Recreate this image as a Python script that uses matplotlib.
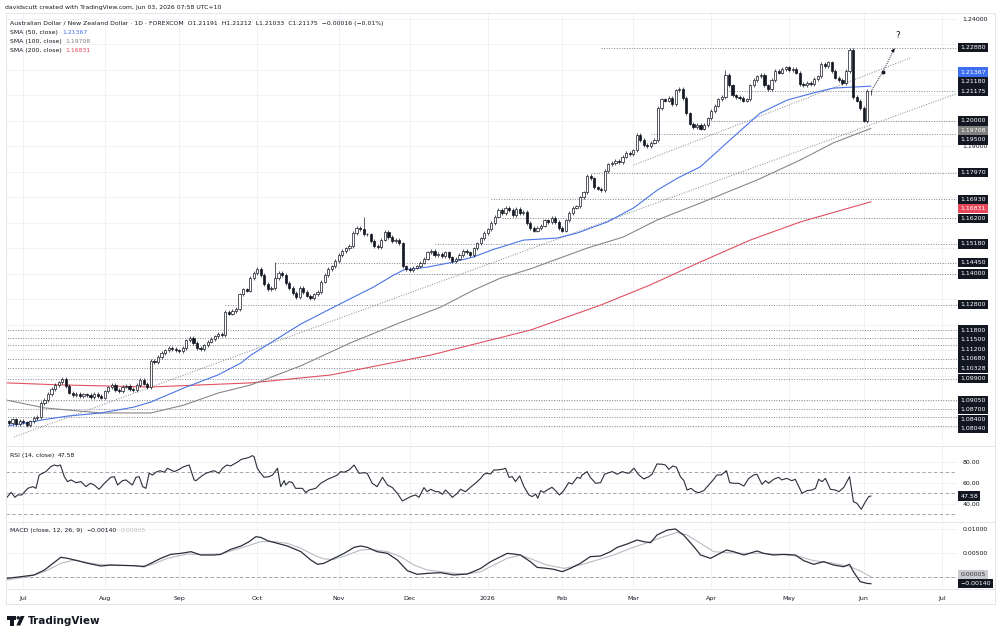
import numpy as np
import matplotlib.pyplot as plt
from matplotlib.transforms import blended_transform_factory
from matplotlib.patches import Polygon, Ellipse
from matplotlib.lines import Line2D

plt.rcParams['font.family'] = ['DejaVu Sans']

# ---------------- data (x = daily bar index) ----------------
month_labels = ["Jul", "Aug", "Sep", "Oct", "Nov", "Dec", "2026", "Feb", "Mar", "Apr", "May", "Jun", "Jul"]
month_bars = [4, 27, 48, 70, 93, 113, 135, 156, 176, 198, 220, 241, 263]

closes = [
    # late Jun 2025
    1.0815, 1.0830, 1.0812, 1.0825,
    # Jul
    1.0818, 1.0808, 1.0822, 1.0835, 1.0840, 1.0895, 1.0905, 1.0930, 1.0950, 1.0965,
    1.0975, 1.0988, 1.0960, 1.0935, 1.0925, 1.0930, 1.0920, 1.0928, 1.0925, 1.0918,
    1.0930, 1.0922, 1.0915,
    # Aug
    1.0940, 1.0955, 1.0965, 1.0945, 1.0940, 1.0958, 1.0962, 1.0950, 1.0945, 1.0965,
    1.0985, 1.0970, 1.0955, 1.1060, 1.1055, 1.1075, 1.1090, 1.1100, 1.1110, 1.1105,
    1.1100,
    # Sep
    1.1098, 1.1110, 1.1140, 1.1150, 1.1130, 1.1110, 1.1105, 1.1120, 1.1135, 1.1145,
    1.1155, 1.1165, 1.1160, 1.1250, 1.1245, 1.1255, 1.1262, 1.1320, 1.1340, 1.1335,
    1.1385, 1.1405,
    # Oct
    1.1420, 1.1395, 1.1360, 1.1340, 1.1345, 1.1385, 1.1405, 1.1395, 1.1365, 1.1345,
    1.1325, 1.1310, 1.1345, 1.1330, 1.1315, 1.1305, 1.1320, 1.1330, 1.1370, 1.1395,
    1.1420, 1.1430, 1.1450,
    # Nov
    1.1475, 1.1490, 1.1500, 1.1510, 1.1560, 1.1580, 1.1575, 1.1555, 1.1555, 1.1530,
    1.1510, 1.1505, 1.1535, 1.1565, 1.1545, 1.1530, 1.1535, 1.1520, 1.1430, 1.1420,
    # Dec
    1.1415, 1.1425, 1.1430, 1.1445, 1.1460, 1.1485, 1.1490, 1.1475, 1.1480, 1.1470,
    1.1485, 1.1465, 1.1450, 1.1460, 1.1475, 1.1490, 1.1485, 1.1475, 1.1500, 1.1520,
    1.1540, 1.1560, 1.1575,
    # Jan 2026
    1.1600, 1.1625, 1.1650, 1.1640, 1.1660, 1.1650, 1.1630, 1.1655, 1.1640, 1.1645,
    1.1600, 1.1580, 1.1570, 1.1580, 1.1590, 1.1610, 1.1605, 1.1620, 1.1605, 1.1580,
    # Feb
    1.1570, 1.1610, 1.1640, 1.1660, 1.1665, 1.1700, 1.1720, 1.1785, 1.1775, 1.1740,
    1.1735, 1.1730, 1.1805, 1.1830, 1.1835, 1.1845, 1.1840, 1.1860, 1.1875, 1.1870,
    # Mar
    1.1885, 1.1945, 1.1925, 1.1905, 1.1900, 1.1915, 1.1925, 1.2050, 1.2085, 1.2080,
    1.2090, 1.2065, 1.2120, 1.2125, 1.2090, 1.2030, 1.1990, 1.1975, 1.1985, 1.1970,
    1.1985, 1.2010,
    # Apr
    1.2040, 1.2060, 1.2085, 1.2095, 1.2180, 1.2140, 1.2100, 1.2095, 1.2090, 1.2080,
    1.2085, 1.2140, 1.2160, 1.2175, 1.2180, 1.2140, 1.2125, 1.2160, 1.2195, 1.2190,
    1.2205, 1.2210,
    # May
    1.2200, 1.2205, 1.2190, 1.2145, 1.2140, 1.2150, 1.2145, 1.2165, 1.2175, 1.2225,
    1.2215, 1.2230, 1.2195, 1.2170, 1.2160, 1.2150, 1.2195, 1.2280, 1.2095, 1.2080,
    1.2050,
    # Jun
    1.2000, 1.21191, 1.21175,
]
first_open = 1.0822
last_open = 1.21191
wick = 0.0007
extreme_highs = {75: 1.1447, 100: 1.1625, 202: 1.2200, 237: 1.2288, 243: 1.21212}
extreme_lows = {241: 1.1995, 243: 1.21033}

sma50_bars = [0, 3.4, 9.0, 16.6, 25.9, 35.2, 40.0, 49.3, 58.9, 65.4, 68.2, 82.3, 95.5, 102.8,
              108.5, 111.3, 118.0, 125.4, 131.0, 136.3, 145.1, 154.6, 160.3, 168.7, 176.1,
              182.8, 188.5, 194.9, 204.2, 211.8, 219.4, 226.8, 232.4, 238.0, 243]
sma50_vals = [1.0806, 1.0812, 1.0827, 1.0843, 1.0855, 1.0878, 1.0898, 1.0953, 1.1004, 1.1051,
              1.1082, 1.1204, 1.1298, 1.1349, 1.1396, 1.1416, 1.1427, 1.1447, 1.1467, 1.1495,
              1.1533, 1.1541, 1.1561, 1.1604, 1.1659, 1.1729, 1.1776, 1.1820, 1.1937, 1.2031,
              1.2082, 1.2110, 1.2129, 1.2133, 1.21367]
sma100_bars = [-0.8, 9.9, 25.9, 40.0, 49.3, 58.9, 68.2, 82.3, 96.3, 110.4, 121.7, 131.0,
               138.6, 147.0, 163.1, 173.2, 182.8, 194.9, 211.0, 223.1, 232.4, 243]
sma100_vals = [1.0906, 1.0875, 1.0855, 1.0855, 1.0886, 1.0933, 1.0965, 1.1040, 1.1130, 1.1210,
               1.1270, 1.1337, 1.1384, 1.1420, 1.1502, 1.1545, 1.1612, 1.1678, 1.1769, 1.1847,
               1.1914, 1.19708]
sma200_bars = [-0.8, 14.6, 40.0, 68.2, 90.7, 118.9, 147.0, 166.8, 180.8, 194.9, 209.0, 223.1, 243]
sma200_vals = [1.0973, 1.0965, 1.0957, 1.0973, 1.1004, 1.1082, 1.1180, 1.1278, 1.1357, 1.1447,
               1.1533, 1.1604, 1.16831]

level_prices = [1.2288, 1.2118, 1.2000, 1.1950, 1.1797, 1.1693, 1.1620, 1.1518, 1.1445, 1.1400,
                1.1280, 1.1180, 1.1150, 1.1120, 1.1068, 1.10328, 1.0990, 1.0905, 1.0870,
                1.0840, 1.0804]
level_start = [167, 203, 198, 181, 164, 136, 139, 120, 75, 109,
               61, -1, -1, -1, -1, -1, -1, -1, -1, -1, -1]

price_ticks = [1.08, 1.09, 1.10, 1.11, 1.12, 1.13, 1.14, 1.15, 1.16, 1.17, 1.18, 1.19,
               1.20, 1.21, 1.22, 1.23, 1.24]
price_ticks_labelled = [1.19, 1.24]

trend_a_bars = [1.4, 267.3]
trend_a_prices = [1.0761, 1.2108]
trend_c_bars = [176.1, 254.1]
trend_c_prices = [1.1827, 1.2247]
arrow_bars = [243.3, 246.4, 249.7]
arrow_prices = [1.2122, 1.2193, 1.2285]
question_bar, question_price = 250.7, 1.2337

rsi_bars = [
    -0.6, 0.6, 1.7, 2.4, 3.6, 5.3, 6.7, 7.6, 8.5, 9.5,
    10.4, 11.8, 12.8, 13.7, 14.5, 15.6, 16.5, 17.5, 18.9, 20.3,
    21.7, 22.9, 24.0, 25.4, 26.9, 28.7, 29.7, 30.6, 32.0, 33.0,
    33.9, 34.8, 35.8, 36.7, 37.7, 38.6, 39.5, 40.5, 41.4, 42.6,
    43.8, 44.7, 45.6, 46.6, 48.0, 48.9, 49.9, 50.8, 52.2, 52.7,
    54.1, 55.5, 56.9, 57.8, 59.2, 60.2, 61.4, 62.5, 63.5, 64.6,
    65.5, 66.8, 67.7, 68.6, 69.1, 70.0, 71.0, 71.9, 73.3, 74.3,
    75.7, 76.6, 77.6, 78.0, 79.0, 79.9, 80.8, 81.8, 82.7, 83.7,
    84.6, 86.5, 87.9, 89.8, 91.6, 92.6, 93.5, 94.5, 95.9, 97.3,
    98.7, 100.1, 101.0, 102.4, 103.8, 105.3, 106.7, 108.1, 109.5, 110.9,
    111.8, 113.2, 114.6, 115.6, 117.0, 117.9, 118.9, 120.3, 121.2, 122.2,
    123.1, 124.0, 125.0, 126.4, 127.3, 128.7, 130.1, 131.5,
    133.0, 133.9, 134.8, 135.8, 136.7, 137.7, 139.1, 140.0, 141.0, 141.9,
    142.8, 144.0, 145.2, 146.6, 147.5, 148.5, 149.1, 149.9, 150.8, 151.7,
    153.1, 154.1, 155.2, 156.4, 157.8, 158.8, 160.2, 161.1, 161.6, 163.0,
    163.9, 165.4, 166.8, 167.9, 169.1, 170.1, 171.5, 172.9, 173.8, 174.8,
    176.2, 177.6, 179.0, 180.4, 181.3, 182.7, 184.2, 185.1, 186.0, 187.2,
    188.2, 189.3, 190.3, 191.2, 192.3, 193.5, 194.5, 195.9, 197.3, 198.7,
    199.6, 200.8, 202.3, 203.2, 204.3, 205.7, 207.2, 208.6, 210.0, 210.9,
    212.3, 213.3, 214.2, 215.6, 217.0, 217.9, 219.3, 220.7, 221.7, 223.6,
    225.0, 226.4, 227.4, 228.3, 229.3, 230.2, 231.6, 233.0, 234.0, 235.4,
    237.0, 238.1, 239.1, 240.3, 241.5, 242.4, 243.0,
]
rsi_vals = [
    46.3, 51.1, 46.3, 48.6, 48.6, 54.9, 56.5, 54.9, 67.6, 69.2,
    70.8, 75.6, 77.1, 76.2, 77.1, 66.0, 61.3, 62.9, 60.3, 61.3,
    56.5, 59.7, 58.1, 54.0, 59.7, 65.4, 66.0, 58.1, 62.2, 62.9,
    60.3, 58.1, 65.4, 66.0, 56.5, 54.9, 69.2, 67.6, 70.2, 71.7,
    70.2, 74.0, 72.4, 70.8, 73.0, 74.9, 76.2, 77.1, 62.9, 62.2,
    66.0, 69.2, 70.8, 71.7, 69.2, 74.0, 77.1, 76.2, 78.1, 80.3,
    82.5, 83.5, 84.4, 86.0, 85.1, 74.0, 69.2, 65.4, 66.0, 67.6,
    74.0, 56.5, 62.2, 58.1, 61.3, 60.3, 54.9, 54.9, 54.9, 50.8,
    53.3, 54.9, 59.7, 63.5, 66.0, 67.6, 70.8, 70.2, 72.4, 77.1,
    69.2, 69.8, 69.2, 59.7, 56.5, 65.4, 58.1, 55.6, 50.2, 42.9,
    44.4, 47.0, 48.6, 46.3, 55.6, 51.7, 54.0, 51.7, 51.7, 49.2,
    53.3, 50.2, 46.3, 50.2, 54.0, 51.7, 55.9, 59.7,
    64.4, 68.3, 69.2, 68.6, 72.4, 72.4, 73.0, 74.0, 65.4, 66.0,
    61.3, 66.7, 56.5, 48.6, 47.0, 49.5, 45.4, 52.7, 51.1, 53.3,
    55.9, 52.7, 48.6, 52.7, 60.3, 59.0, 65.4, 64.4, 67.6, 70.8,
    65.4, 59.7, 60.3, 68.3, 69.8, 70.8, 68.3, 70.8, 69.8, 69.2,
    74.0, 67.6, 63.8, 66.0, 68.3, 78.1, 77.8, 77.1, 73.0, 76.2,
    74.9, 66.0, 62.2, 53.3, 54.9, 51.7, 50.8, 52.7, 58.1, 63.5,
    67.6, 67.6, 71.7, 60.3, 59.7, 59.7, 57.1, 64.4, 67.6, 68.3,
    58.7, 62.2, 59.7, 63.5, 65.4, 62.9, 64.4, 62.2, 63.5, 50.2,
    52.7, 53.3, 54.9, 63.5, 61.3, 64.4, 54.0, 53.3, 51.7, 55.9,
    66.0, 42.2, 40.6, 34.9, 42.2, 47.0, 47.58,
]

macd_bars = [
    -0.6, 3.4, 7.1, 10.0, 11.8, 14.6, 16.5, 19.3, 22.2, 25.9,
    28.7, 31.5, 35.3, 38.1, 40.0, 42.8, 45.6, 48.5, 51.3, 54.1,
    57.8, 59.7, 62.5, 65.4, 67.7, 69.6, 71.0, 72.9, 75.7, 78.5,
    82.3, 85.1, 87.0, 88.8, 91.6, 94.5, 97.3, 99.2, 101.0, 103.8,
    106.7, 109.5, 112.3, 115.1, 117.9, 121.7, 125.4, 129.2, 132.0,
    133.0, 135.8, 138.6, 140.5, 142.4, 144.2, 147.0, 148.9, 151.7, 153.6,
    156.0, 158.3, 161.1, 163.9, 166.8, 169.6, 171.5, 174.3, 177.1, 179.0,
    180.9, 182.7, 185.6, 187.9, 190.2, 193.1, 195.0, 197.8, 199.6, 202.3,
    204.3, 207.2, 210.9, 212.8, 215.6, 218.4, 221.7, 224.1, 226.9, 229.7,
    232.5, 235.3, 237.0, 238.1, 240.0, 241.9, 243.0,
]
macd_vals = [
    -0.00028, 0.00007, 0.00042, 0.00146, 0.0025, 0.0041, 0.00389, 0.0034, 0.00285, 0.00229,
    0.0025, 0.00243, 0.00236, 0.00215, 0.00285, 0.00389, 0.00472, 0.00493, 0.00528, 0.00458,
    0.00458, 0.00472, 0.00576, 0.00646, 0.00736, 0.0084, 0.00826, 0.00757, 0.00701, 0.00646,
    0.00528, 0.00354, 0.00264, 0.00285, 0.00389, 0.00493, 0.00618, 0.00646, 0.00618, 0.00528,
    0.00493, 0.00354, 0.00132, 0.00056, 0.00076, 0.0009, 0.00042, 0.00063, 0.00146,
    0.0018, 0.0032, 0.00424, 0.00493, 0.00479, 0.00458, 0.0032, 0.00201, 0.0018, 0.0016,
    0.00111, 0.0018, 0.00285, 0.00424, 0.00438, 0.00528, 0.00618, 0.00688, 0.00771, 0.00736,
    0.00715, 0.00875, 0.00979, 0.0100, 0.00875, 0.00632, 0.00458, 0.00389, 0.00458, 0.00563,
    0.00528, 0.00458, 0.00542, 0.00493, 0.00458, 0.00472, 0.00458, 0.0034, 0.00264, 0.0032,
    0.0025, 0.00215, 0.00264, 0.00111, -0.00097, -0.00132, -0.0014,
]
signal_bars = [
    -0.6, 5.3, 10.0, 14.6, 18.4, 22.2, 25.9, 31.5, 37.2, 40.0,
    44.7, 50.3, 54.1, 59.7, 63.5, 67.2, 71.0, 74.7, 78.5, 82.3,
    86.0, 88.8, 91.6, 95.4, 99.2, 102.0, 106.7, 110.4, 114.2, 117.9,
    121.7, 125.4, 129.2,
    133.0, 136.7, 140.5, 144.2, 148.0, 151.7, 156.5, 161.1, 165.8, 170.5,
    175.2, 180.0, 184.6, 188.4, 191.2, 195.0, 198.7, 202.5, 207.2, 211.9,
    217.5, 222.2, 226.9, 232.5, 237.2, 240.0, 243.0,
]
signal_vals = [
    -0.00063, 0.00007, 0.00111, 0.00285, 0.00354, 0.00299, 0.00257, 0.00243, 0.00229, 0.0025,
    0.00389, 0.00479, 0.00472, 0.00479, 0.00563, 0.00646, 0.00736, 0.00736, 0.00701, 0.00597,
    0.00458, 0.00375, 0.00368, 0.00458, 0.00563, 0.00576, 0.00528, 0.00424, 0.0025, 0.00146,
    0.00111, 0.00076, 0.00063,
    0.00111, 0.0025, 0.00389, 0.00458, 0.00354, 0.0025, 0.0018, 0.0025, 0.00354, 0.00458,
    0.00597, 0.00715, 0.0084, 0.0093, 0.00875, 0.00701, 0.00528, 0.00507, 0.00493, 0.00493,
    0.00472, 0.00438, 0.0034, 0.00285, 0.00215, 0.00125, 0.00005,
]

# ---------------- styling ----------------
INK = '#131722'
GRID = '#eef0f4'
FRAME = '#dfe2e8'
LEVEL = '#80838c'
BLUE = '#4a74e8'
GRAY = '#888888'
RED = '#e0505f'
W, H = 1001, 637
FS = 4.5


def fx(px):
    return px / W


def fy(py):
    return 1 - py / H


def rect(top, bottom, left=6, right=957):
    return [fx(left), fy(bottom), fx(right) - fx(left), fy(top) - fy(bottom)]


def place_tags(ax, tags, fixed_value, gap=9.5):
    """Put value tags on the right scale, pushing overlapping ones apart."""
    to_disp = lambda v: ax.transData.transform((0, v))[1]
    to_data = lambda y: ax.transData.inverted().transform((0, y))[1]
    y0 = to_disp(fixed_value)
    placed = [(y0, t) for t in tags if t[0] == fixed_value]
    prev = y0
    for t in sorted([t for t in tags if t[0] > fixed_value], key=lambda t: t[0]):
        y = max(to_disp(t[0]), prev + gap)
        placed.append((y, t))
        prev = y
    prev = y0
    for t in sorted([t for t in tags if t[0] < fixed_value], key=lambda t: -t[0]):
        y = min(to_disp(t[0]), prev - gap)
        placed.append((y, t))
        prev = y
    trans = blended_transform_factory(ax.transAxes, ax.transData)
    for y, (v, txt, bg, fg) in placed:
        ax.text(1.0037, to_data(y), txt, transform=trans, ha='left', va='center',
                fontsize=FS, color=fg, clip_on=False, zorder=20,
                bbox=dict(boxstyle='square,pad=0.35', fc=bg, ec='none'))


fig = plt.figure(figsize=(W / 100, H / 100), dpi=100)
ax = fig.add_axes(rect(13, 445))
ax_rsi = fig.add_axes(rect(446, 521), sharex=ax)
ax_macd = fig.add_axes(rect(522, 588), sharex=ax)

for a in (ax, ax_rsi, ax_macd):
    a.patch.set_visible(False)
    for s in a.spines.values():
        s.set_visible(False)
    a.yaxis.tick_right()
    a.tick_params(axis='y', length=0, labelsize=FS, labelcolor=INK, pad=4)
    a.tick_params(axis='x', length=0, labelbottom=False)
    a.grid(True, color=GRID, lw=0.6)
    a.set_axisbelow(True)

ax.set_xticks(month_bars)
ax.set_xlim(-0.85, 267.3)
ax_macd.tick_params(axis='x', labelbottom=True, labelsize=FS, labelcolor=INK, pad=6)
ax_macd.set_xticklabels(month_labels)

# ---------------- price panel ----------------
ax.set_ylim(1.07294, 1.24235)
ax.set_yticks(price_ticks)
ax.set_yticklabels([f"{v:.5f}" if v in price_ticks_labelled else "" for v in price_ticks])

c = np.array(closes)
idx = np.arange(len(c))
o = np.concatenate([[first_open], c[:-1]])
o[-1] = last_open
hi = np.maximum(o, c) + wick
lo = np.minimum(o, c) - wick
for k, v in extreme_highs.items():
    hi[k] = v
for k, v in extreme_lows.items():
    lo[k] = v
up = c >= o
bottom = np.minimum(o, c)
height = np.maximum(np.abs(c - o), 0.00012)

for p, s in zip(level_prices, level_start):
    ax.hlines(p, s, 267.3, color=LEVEL, lw=0.7, linestyles=(0, (1, 1.6)), zorder=2)
ax.plot(trend_a_bars, trend_a_prices, color=LEVEL, lw=0.7, ls=(0, (1, 1.6)), zorder=2)
ax.plot(trend_c_bars, trend_c_prices, color=LEVEL, lw=0.7, ls=(0, (1, 1.6)), zorder=2)

ax.plot(sma200_bars, sma200_vals, color=RED, lw=0.8, zorder=3)
ax.plot(sma100_bars, sma100_vals, color=GRAY, lw=0.8, zorder=3)
ax.plot(sma50_bars, sma50_vals, color=BLUE, lw=0.8, zorder=3)

ax.vlines(idx, lo, hi, color=INK, lw=0.5, zorder=4)
ax.bar(idx[up], height[up], bottom=bottom[up], width=0.62, color='white',
       edgecolor=INK, linewidth=0.5, zorder=5)
ax.bar(idx[~up], height[~up], bottom=bottom[~up], width=0.62, color=INK,
       edgecolor=INK, linewidth=0.5, zorder=5)

# projected move
ax.plot(arrow_bars, arrow_prices, color=INK, lw=0.7, ls=(0, (1, 1.2)), zorder=6)
ax.plot(arrow_bars[1], arrow_prices[1], 'o', color=INK, ms=1.8, zorder=6)
ax.annotate('', xy=(arrow_bars[2], arrow_prices[2]),
            xytext=(arrow_bars[2] - 0.35, arrow_prices[2] - 0.0008),
            arrowprops=dict(arrowstyle='-|>', color=INK, lw=0.6, mutation_scale=5), zorder=6)
ax.text(question_bar, question_price, '?', fontsize=6.5, color=INK, ha='center', va='center')

price_tags = [(p, f"{p:.5f}", INK, 'white') for p in level_prices]
price_tags += [(sma50_vals[-1], f"{sma50_vals[-1]:.5f}", '#3d6ef0', 'white'),
               (sma100_vals[-1], f"{sma100_vals[-1]:.5f}", '#808080', 'white'),
               (sma200_vals[-1], f"{sma200_vals[-1]:.5f}", '#e8475a', 'white'),
               (closes[-1], f"{closes[-1]:.5f}", INK, 'white')]
place_tags(ax, price_tags, closes[-1])

# ---------------- RSI panel ----------------
ax_rsi.set_ylim(23.8, 95.2)
ax_rsi.set_yticks([40, 60, 80])
ax_rsi.set_yticklabels(["40.00", "60.00", "80.00"])
for lvl in (70, 50, 30):
    ax_rsi.axhline(lvl, color='#9598a1', lw=0.6, ls=(0, (4, 3)), zorder=2)
ax_rsi.plot(rsi_bars, rsi_vals, color='#2a2e39', lw=0.8, zorder=3)
place_tags(ax_rsi, [(rsi_vals[-1], f"{rsi_vals[-1]:.2f}", INK, 'white')], rsi_vals[-1])

# ---------------- MACD panel ----------------
ax_macd.set_ylim(-0.00229, 0.01146)
ax_macd.set_yticks([0, 0.005, 0.01])
ax_macd.set_yticklabels(["", "0.00500", "0.01000"])
ax_macd.axhline(0, color='#9598a1', lw=0.6, ls=(0, (4, 3)), zorder=2)
ax_macd.plot(signal_bars, signal_vals, color='#b8bbc2', lw=0.8, zorder=3)
ax_macd.plot(macd_bars, macd_vals, color='#2a2e39', lw=0.9, zorder=4)
place_tags(ax_macd, [(macd_vals[-1], f"{macd_vals[-1]:.5f}".replace('-', '\u2212'), INK, 'white'),
                     (signal_vals[-1], f"{signal_vals[-1]:.5f}", '#c9cbd0', '#333333')],
           macd_vals[-1])

# ---------------- frame and separators ----------------
for (x0, y0, x1, y1) in [(6, 13, 995, 13), (6, 604, 995, 604), (6, 13, 6, 604), (995, 13, 995, 604),
                         (6, 445.5, 995, 445.5), (6, 521.5, 995, 521.5), (6, 588.5, 995, 588.5)]:
    fig.add_artist(Line2D([fx(x0), fx(x1)], [fy(y0), fy(y1)], color=FRAME, lw=0.6))


# ---------------- texts ----------------
renderer = fig.canvas.get_renderer()


def text_run(x_px, y_px, parts, size=4.4):
    """Write coloured pieces one after another on a common baseline."""
    x = fx(x_px)
    for s, col in parts:
        t = fig.text(x, fy(y_px + 2), s, color=col, fontsize=size, va='baseline', ha='left', zorder=30)
        x += (t.get_window_extent(renderer).width + 4) / W


fig.text(fx(5), fy(7), "davidscutt created with TradingView.com, Jun 03, 2026 07:58 UTC+10",
         fontsize=4.4, color=INK, va='center')
text_run(10, 23, [("Australian Dollar / New Zealand Dollar \u00b7 1D \u00b7 FOREXCOM  O1.21191  "
                   "H1.21212  L1.21033  C1.21175  \u22120.00016 (\u22120.01%)", INK)])
text_run(10, 32, [("SMA (50, close)", INK), (f"{sma50_vals[-1]:.5f}", '#3d6ef0')])
text_run(10, 41, [("SMA (100, close)", INK), (f"{sma100_vals[-1]:.5f}", '#808080')])
text_run(10, 50, [("SMA (200, close)", INK), (f"{sma200_vals[-1]:.5f}", '#e8475a')])
text_run(10, 455, [("RSI (14, close)", INK), (f"{rsi_vals[-1]:.2f}", INK)])
text_run(10, 530, [("MACD (close, 12, 26, 9)", INK),
                   (f"{macd_vals[-1]:.5f}".replace('-', '\u2212'), INK),
                   (f"{signal_vals[-1]:.5f}", '#b8bbc2')])

# TradingView logo
logo_t = [(7, 616), (16, 616), (16, 619.5), (13.6, 619.5), (13.6, 625.5), (10, 625.5), (10, 619.5), (7, 619.5)]
logo_v = [(20.6, 616), (24.6, 616), (20.2, 625.5), (16.4, 625.5)]
for pts in (logo_t, logo_v):
    fig.add_artist(Polygon([(fx(x), fy(y)) for x, y in pts], closed=True, fc=INK, ec='none',
                           transform=fig.transFigure))
fig.add_artist(Ellipse((fx(18.2), fy(617.8)), 3.4 / W, 3.4 / H, fc=INK, ec='none',
                       transform=fig.transFigure))
fig.text(fx(28), fy(621), "TradingView", fontsize=7.5, fontweight='bold', color=INK, va='center')

fig.savefig("out.png", dpi=100, facecolor='white')
